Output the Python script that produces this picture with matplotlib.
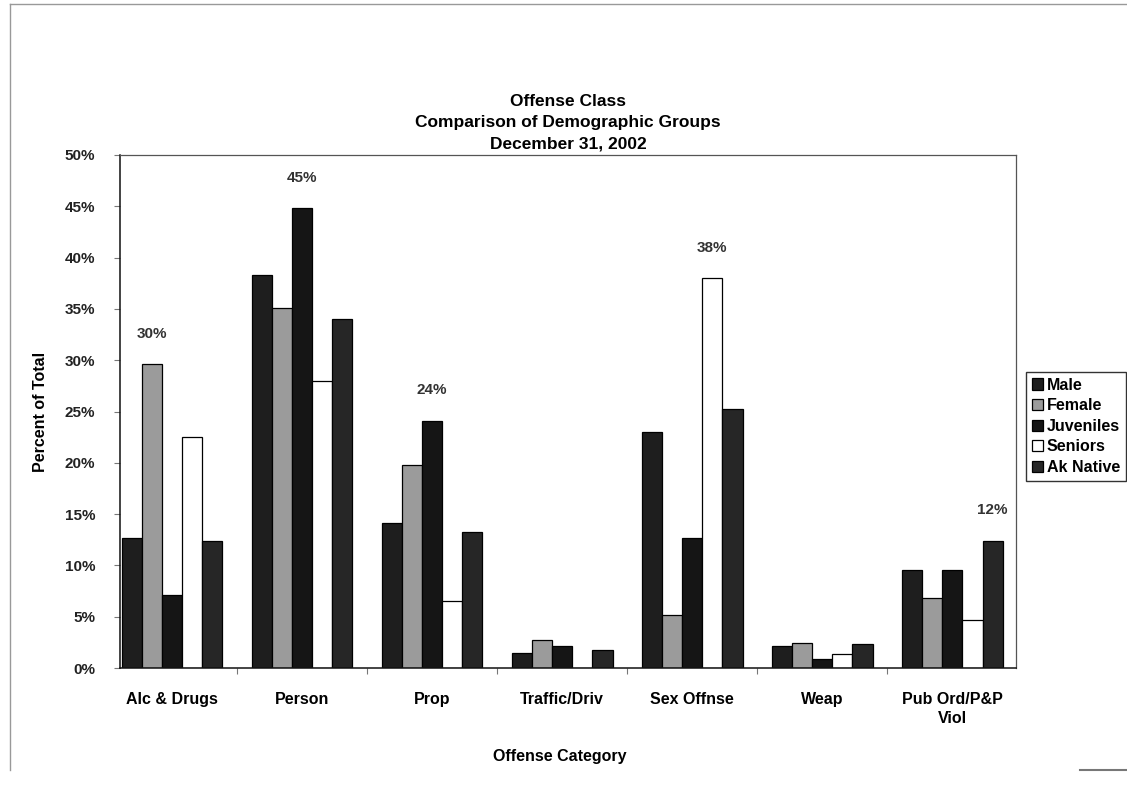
import matplotlib
matplotlib.use("Agg")
import matplotlib.pyplot as plt
import numpy as np
from matplotlib.lines import Line2D
from matplotlib.ticker import FuncFormatter, FixedLocator

plt.rcParams['font.family'] = ['Liberation Sans', 'DejaVu Sans']
plt.rcParams['font.weight'] = 'bold'

categories = ['Alc & Drugs', 'Person', 'Prop', 'Traffic/Driv', 'Sex Offnse',
              'Weap', 'Pub Ord/P&P\nViol']
groups = ['Male', 'Female', 'Juveniles', 'Seniors', 'Ak Native']

male      = [12.7, 38.3, 14.1, 1.5, 23.0, 2.1, 9.6]
female    = [29.6, 35.1, 19.8, 2.7, 5.2, 2.4, 6.8]
juveniles = [7.1, 44.8, 24.1, 2.1, 12.7, 0.9, 9.6]
seniors   = [22.5, 28.0, 6.5, 0.0, 38.0, 1.4, 4.7]
ak_native = [12.4, 34.0, 13.3, 1.8, 25.2, 2.3, 12.4]

# which bar in each category carries a value label (group index, None = no label)
label_bar = [1, 2, 2, None, 3, None, 4]

series = [male, female, juveniles, seniors, ak_native]
colors = ['#1e1e1e', '#9b9b9b', '#151515', '#ffffff', '#262626']

fig = plt.figure(figsize=(11.27, 7.86), dpi=100)
ax = fig.add_axes([120 / 1127, 1 - 668 / 786, 896 / 1127, 513 / 786])

x = np.arange(len(categories))
w = 0.155
for k, (vals, c) in enumerate(zip(series, colors)):
    ax.bar(x + (k - 2) * w, vals, width=w, color=c, edgecolor='black',
           linewidth=0.9, label=groups[k], zorder=2)

for i, k in enumerate(label_bar):
    if k is None:
        continue
    v = series[k][i]
    ax.annotate(f'{v:.0f}%', (x[i] + (k - 2) * w, v), xytext=(0, 17),
                textcoords='offset points', ha='center', va='bottom',
                fontsize=11, fontweight='bold', color='#333333')

ax.set_xlim(-0.4, 6.49)
ax.set_ylim(0, 50)
ax.yaxis.set_major_locator(FixedLocator(np.arange(0, 51, 5)))
ax.yaxis.set_major_formatter(FuncFormatter(lambda v, p: f'{v:.0f}%'))

# category ticks sit between groups, names centred under each group
ax.set_xticks(x[:-1] + 0.5)
ax.set_xticklabels([])
ax.set_xticks(x, minor=True)
ax.set_xticklabels(categories, minor=True, fontsize=11.5, fontweight='bold',
                   linespacing=1.35)
ax.tick_params(axis='x', which='minor', length=0, pad=17)
ax.tick_params(axis='x', which='major', length=4, color='#777777')
ax.tick_params(axis='y', labelsize=11, length=4, color='#777777', pad=14)
for t in ax.get_yticklabels():
    t.set_fontweight('bold')
    t.set_color('#222222')

for s in ['top', 'right']:
    ax.spines[s].set_color('#555555')
    ax.spines[s].set_linewidth(0.9)
for s in ['left', 'bottom']:
    ax.spines[s].set_color('#111111')
    ax.spines[s].set_linewidth(1.1)

ax.set_ylabel('Percent of Total', fontsize=11.5, fontweight='bold')
ax.yaxis.set_label_coords(-72 / 896, 0.5)
fig.text(560 / 1127, 1 - 757 / 786, 'Offense Category', ha='center',
         va='center', fontsize=11.5, fontweight='bold')

fig.text(568 / 1127, 1 - 123 / 786,
         'Offense Class\nComparison of Demographic Groups\nDecember 31, 2002',
         ha='center', va='center', fontsize=12.5, fontweight='bold',
         linespacing=1.5)

leg = fig.legend(loc='upper left', bbox_to_anchor=(1026 / 1127, 1 - 372 / 786),
                 frameon=True, fancybox=False, edgecolor='black',
                 prop={'size': 11.5, 'weight': 'bold'}, handlelength=0.7,
                 handleheight=0.7, handletextpad=0.25, labelspacing=0.35,
                 borderpad=0.35, borderaxespad=0)
leg.get_frame().set_linewidth(1.0)

# page frame lines
fig.add_artist(Line2D([10 / 1127, 10 / 1127], [0.02, 1 - 4 / 786],
                      transform=fig.transFigure, color='#999999', lw=1))
fig.add_artist(Line2D([10 / 1127, 1.0], [1 - 4 / 786, 1 - 4 / 786],
                      transform=fig.transFigure, color='#999999', lw=1))
fig.add_artist(Line2D([1080 / 1127, 1.0], [1 - 770 / 786, 1 - 770 / 786],
                      transform=fig.transFigure, color='#777777', lw=1.5))

fig.savefig('out.png', dpi=100, facecolor='white')
